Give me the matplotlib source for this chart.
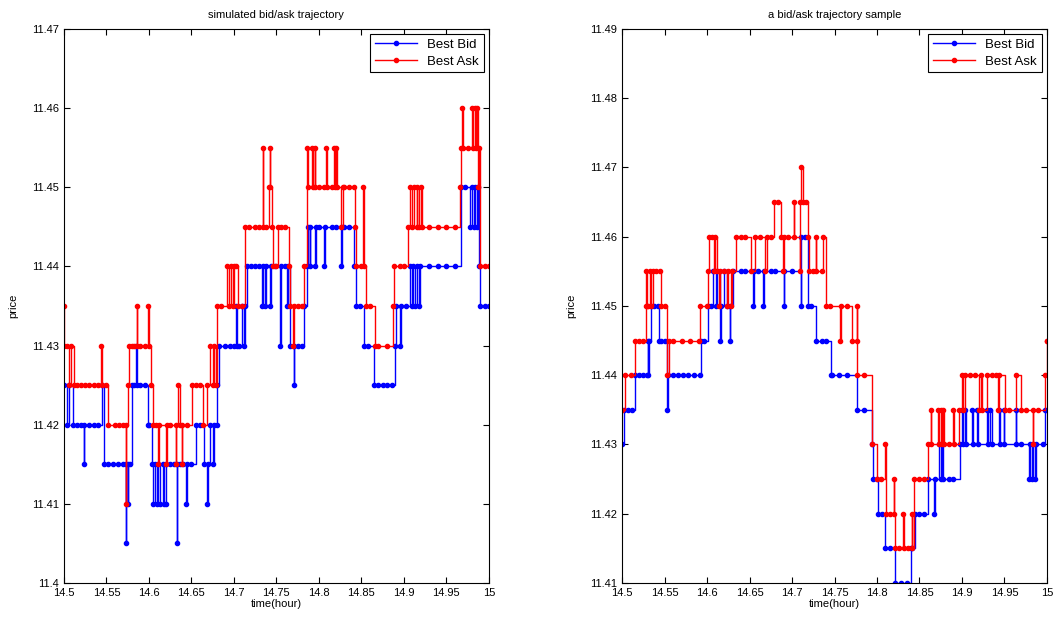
#!/usr/bin/env python3
# plot.py -- best bid / best ask trajectories (simulated vs sample), MATLAB style
import matplotlib
matplotlib.use("Agg")
import matplotlib.pyplot as plt
from matplotlib.ticker import FormatStrFormatter
import numpy as np

# (time in hours, price) at each quote update
sim_bid = [
    (14.500, 11.425), (14.5035, 11.420), (14.506, 11.425), (14.5106, 11.420), (14.515, 11.420),
    (14.520, 11.420), (14.5235, 11.415), (14.524, 11.420), (14.530, 11.420), (14.535, 11.420),
    (14.540, 11.420), (14.5447, 11.425), (14.547, 11.415), (14.552, 11.415), (14.558, 11.415),
    (14.564, 11.415), (14.569, 11.415), (14.573, 11.405), (14.5735, 11.415), (14.575, 11.410),
    (14.5755, 11.415), (14.578, 11.415), (14.580, 11.425), (14.583, 11.425), (14.5847, 11.430),
    (14.586, 11.425), (14.590, 11.425), (14.595, 11.425), (14.5988, 11.420), (14.600, 11.420),
    (14.6035, 11.415), (14.605, 11.410), (14.607, 11.415), (14.609, 11.410), (14.611, 11.415),
    (14.613, 11.410), (14.6165, 11.415), (14.618, 11.410), (14.6195, 11.410), (14.620, 11.415),
    (14.625, 11.415), (14.630, 11.415), (14.633, 11.405), (14.6335, 11.415), (14.636, 11.415),
    (14.640, 11.415), (14.644, 11.410), (14.645, 11.415), (14.650, 11.415), (14.655, 11.420),
    (14.660, 11.420), (14.665, 11.415), (14.668, 11.410), (14.669, 11.415), (14.672, 11.420),
    (14.675, 11.415), (14.676, 11.420), (14.680, 11.420), (14.6805, 11.425), (14.682, 11.430),
    (14.690, 11.430), (14.695, 11.430), (14.700, 11.430), (14.702, 11.435), (14.7035, 11.430),
    (14.706, 11.430), (14.710, 11.435), (14.712, 11.430), (14.7135, 11.435), (14.715, 11.440),
    (14.720, 11.440), (14.725, 11.440), (14.730, 11.440), (14.733, 11.435), (14.734, 11.440),
    (14.736, 11.435), (14.738, 11.440), (14.742, 11.435), (14.744, 11.440), (14.748, 11.440),
    (14.754, 11.430), (14.755, 11.440), (14.760, 11.440), (14.762, 11.435), (14.764, 11.440),
    (14.766, 11.430), (14.7706, 11.425), (14.771, 11.430), (14.775, 11.430), (14.780, 11.430),
    (14.783, 11.435), (14.786, 11.440), (14.787, 11.445), (14.789, 11.440), (14.790, 11.445),
    (14.795, 11.440), (14.797, 11.445), (14.800, 11.445), (14.806, 11.440), (14.807, 11.445),
    (14.815, 11.445), (14.820, 11.445), (14.826, 11.440), (14.827, 11.445), (14.830, 11.445),
    (14.835, 11.445), (14.8415, 11.440), (14.844, 11.435), (14.848, 11.435), (14.853, 11.430),
    (14.858, 11.430), (14.865, 11.425), (14.870, 11.425), (14.875, 11.425), (14.880, 11.425),
    (14.886, 11.425), (14.889, 11.430), (14.891, 11.435), (14.895, 11.430), (14.897, 11.435),
    (14.902, 11.435), (14.907, 11.440), (14.909, 11.435), (14.911, 11.440), (14.913, 11.435),
    (14.915, 11.440), (14.918, 11.435), (14.919, 11.440), (14.930, 11.440), (14.940, 11.440),
    (14.950, 11.440), (14.960, 11.440), (14.967, 11.450), (14.972, 11.450), (14.978, 11.445),
    (14.980, 11.450), (14.982, 11.445), (14.984, 11.450), (14.986, 11.445), (14.987, 11.450),
    (14.988, 11.440), (14.989, 11.435), (14.995, 11.435), (15.000, 11.435),
]

sim_ask = [
    (14.500, 11.435), (14.5005, 11.430), (14.504, 11.430), (14.506, 11.425), (14.508, 11.430),
    (14.512, 11.425), (14.515, 11.425), (14.520, 11.425), (14.525, 11.425), (14.530, 11.425),
    (14.535, 11.425), (14.540, 11.425), (14.544, 11.430), (14.545, 11.425), (14.550, 11.425),
    (14.552, 11.420), (14.560, 11.420), (14.565, 11.420), (14.570, 11.420), (14.5725, 11.410),
    (14.5735, 11.420), (14.5755, 11.425), (14.577, 11.430), (14.580, 11.430), (14.583, 11.430),
    (14.586, 11.435), (14.5865, 11.430), (14.590, 11.430), (14.595, 11.430), (14.599, 11.435),
    (14.600, 11.430), (14.603, 11.425), (14.6045, 11.420), (14.608, 11.420), (14.611, 11.415),
    (14.612, 11.420), (14.620, 11.415), (14.621, 11.420), (14.625, 11.420), (14.6315, 11.415),
    (14.632, 11.420), (14.6345, 11.425), (14.637, 11.420), (14.6385, 11.415), (14.639, 11.420),
    (14.645, 11.420), (14.6505, 11.425), (14.655, 11.425), (14.660, 11.425), (14.664, 11.420),
    (14.668, 11.425), (14.672, 11.430), (14.675, 11.425), (14.6765, 11.430), (14.679, 11.425),
    (14.6805, 11.435), (14.685, 11.435), (14.692, 11.440), (14.694, 11.435), (14.697, 11.440),
    (14.699, 11.435), (14.700, 11.440), (14.703, 11.440), (14.705, 11.435), (14.710, 11.435),
    (14.7135, 11.445), (14.718, 11.445), (14.725, 11.445), (14.730, 11.445), (14.734, 11.455),
    (14.7345, 11.445), (14.738, 11.445), (14.741, 11.450), (14.742, 11.455), (14.743, 11.450),
    (14.745, 11.445), (14.746, 11.440), (14.750, 11.440), (14.752, 11.445), (14.755, 11.445),
    (14.760, 11.445), (14.7645, 11.440), (14.766, 11.435), (14.770, 11.430), (14.771, 11.435),
    (14.775, 11.435), (14.780, 11.435), (14.782, 11.440), (14.786, 11.455), (14.787, 11.450),
    (14.792, 11.455), (14.793, 11.450), (14.795, 11.455), (14.796, 11.450), (14.800, 11.450),
    (14.806, 11.450), (14.808, 11.455), (14.809, 11.450), (14.815, 11.450), (14.818, 11.455),
    (14.819, 11.450), (14.820, 11.455), (14.821, 11.450), (14.826, 11.445), (14.828, 11.450),
    (14.830, 11.450), (14.835, 11.450), (14.841, 11.450), (14.843, 11.445), (14.844, 11.440),
    (14.850, 11.440), (14.852, 11.450), (14.853, 11.440), (14.855, 11.435), (14.860, 11.435),
    (14.866, 11.430), (14.870, 11.430), (14.880, 11.430), (14.8875, 11.435), (14.8885, 11.440),
    (14.895, 11.440), (14.900, 11.440), (14.905, 11.445), (14.907, 11.450), (14.910, 11.445),
    (14.912, 11.450), (14.915, 11.445), (14.916, 11.450), (14.918, 11.445), (14.920, 11.450),
    (14.921, 11.445), (14.930, 11.445), (14.940, 11.445), (14.950, 11.445), (14.960, 11.445),
    (14.9655, 11.450), (14.967, 11.455), (14.968, 11.460), (14.969, 11.455), (14.975, 11.455),
    (14.980, 11.460), (14.981, 11.455), (14.984, 11.460), (14.985, 11.455), (14.986, 11.460),
    (14.987, 11.450), (14.988, 11.455), (14.989, 11.440), (14.995, 11.440), (15.000, 11.440),
]

real_bid = [
    (14.500, 11.430), (14.502, 11.435), (14.507, 11.435), (14.512, 11.435), (14.515, 11.440),
    (14.520, 11.440), (14.525, 11.440), (14.529, 11.440), (14.530, 11.445), (14.531, 11.440),
    (14.532, 11.445), (14.534, 11.450), (14.538, 11.450), (14.542, 11.450), (14.543, 11.445),
    (14.546, 11.445), (14.550, 11.445), (14.5525, 11.435), (14.554, 11.440), (14.560, 11.440),
    (14.566, 11.440), (14.572, 11.440), (14.578, 11.440), (14.585, 11.440), (14.592, 11.440),
    (14.593, 11.445), (14.597, 11.445), (14.601, 11.450), (14.605, 11.450), (14.6065, 11.455),
    (14.610, 11.450), (14.612, 11.455), (14.6155, 11.445), (14.617, 11.450), (14.620, 11.455),
    (14.623, 11.450), (14.627, 11.445), (14.6275, 11.450), (14.630, 11.455), (14.640, 11.455),
    (14.645, 11.455), (14.654, 11.450), (14.655, 11.455), (14.660, 11.455), (14.666, 11.450),
    (14.667, 11.455), (14.675, 11.455), (14.680, 11.455), (14.690, 11.450), (14.691, 11.455),
    (14.700, 11.455), (14.710, 11.450), (14.7105, 11.460), (14.715, 11.460), (14.719, 11.450),
    (14.722, 11.450), (14.7285, 11.445), (14.735, 11.445), (14.740, 11.445), (14.746, 11.440),
    (14.7465, 11.440), (14.755, 11.440), (14.765, 11.440), (14.777, 11.435), (14.785, 11.435),
    (14.794, 11.430), (14.795, 11.425), (14.800, 11.425), (14.8015, 11.420), (14.806, 11.420),
    (14.810, 11.415), (14.815, 11.415), (14.8215, 11.410), (14.828, 11.410), (14.835, 11.410),
    (14.8395, 11.415), (14.841, 11.415), (14.845, 11.420), (14.850, 11.420), (14.855, 11.420),
    (14.8605, 11.425), (14.8675, 11.420), (14.868, 11.425), (14.873, 11.430), (14.875, 11.425),
    (14.877, 11.430), (14.878, 11.425), (14.885, 11.425), (14.890, 11.425), (14.898, 11.430),
    (14.900, 11.435), (14.901, 11.430), (14.903, 11.435), (14.905, 11.430), (14.912, 11.435),
    (14.913, 11.430), (14.9175, 11.435), (14.919, 11.430), (14.9295, 11.435), (14.931, 11.430),
    (14.9335, 11.435), (14.935, 11.430), (14.943, 11.435), (14.945, 11.430), (14.949, 11.435),
    (14.950, 11.430), (14.963, 11.435), (14.9635, 11.430), (14.970, 11.430), (14.9785, 11.425),
    (14.980, 11.430), (14.982, 11.425), (14.984, 11.430), (14.9865, 11.425), (14.987, 11.430),
    (14.995, 11.430), (14.998, 11.435), (15.000, 11.435),
]

real_ask = [
    (14.500, 11.435), (14.5035, 11.440), (14.510, 11.440), (14.515, 11.445), (14.520, 11.445),
    (14.525, 11.445), (14.528, 11.450), (14.5285, 11.455), (14.529, 11.450), (14.5305, 11.450),
    (14.533, 11.455), (14.534, 11.450), (14.536, 11.455), (14.540, 11.455), (14.545, 11.455),
    (14.546, 11.450), (14.550, 11.450), (14.553, 11.440), (14.555, 11.445), (14.560, 11.445),
    (14.570, 11.445), (14.580, 11.445), (14.590, 11.445), (14.592, 11.450), (14.600, 11.450),
    (14.6015, 11.455), (14.6025, 11.460), (14.606, 11.460), (14.608, 11.455), (14.609, 11.460),
    (14.612, 11.455), (14.614, 11.450), (14.6155, 11.455), (14.620, 11.455), (14.624, 11.450),
    (14.6245, 11.455), (14.628, 11.450), (14.629, 11.455), (14.6345, 11.460), (14.640, 11.460),
    (14.645, 11.460), (14.652, 11.455), (14.656, 11.460), (14.662, 11.460), (14.6685, 11.455),
    (14.670, 11.460), (14.675, 11.460), (14.679, 11.465), (14.683, 11.465), (14.687, 11.460),
    (14.6896, 11.455), (14.6905, 11.460), (14.695, 11.460), (14.702, 11.465), (14.7025, 11.460),
    (14.709, 11.455), (14.7095, 11.465), (14.710, 11.470), (14.713, 11.465), (14.716, 11.465),
    (14.719, 11.460), (14.720, 11.455), (14.725, 11.455), (14.7277, 11.460), (14.728, 11.455),
    (14.735, 11.455), (14.737, 11.460), (14.740, 11.450), (14.745, 11.450), (14.757, 11.445),
    (14.7575, 11.450), (14.765, 11.450), (14.771, 11.445), (14.776, 11.450), (14.7765, 11.445),
    (14.777, 11.440), (14.785, 11.440), (14.794, 11.430), (14.800, 11.425), (14.805, 11.425),
    (14.810, 11.430), (14.8105, 11.420), (14.815, 11.420), (14.820, 11.425), (14.8205, 11.420),
    (14.8215, 11.415), (14.826, 11.415), (14.831, 11.420), (14.8315, 11.415), (14.836, 11.415),
    (14.841, 11.420), (14.8415, 11.415), (14.843, 11.425), (14.850, 11.425), (14.855, 11.425),
    (14.8605, 11.430), (14.863, 11.435), (14.8635, 11.430), (14.872, 11.435), (14.873, 11.430),
    (14.875, 11.435), (14.876, 11.430), (14.878, 11.435), (14.8785, 11.430), (14.885, 11.430),
    (14.890, 11.435), (14.8905, 11.430), (14.896, 11.435), (14.900, 11.440), (14.901, 11.435),
    (14.903, 11.440), (14.910, 11.440), (14.915, 11.440), (14.920, 11.435), (14.922, 11.440),
    (14.923, 11.435), (14.930, 11.440), (14.935, 11.440), (14.940, 11.440), (14.942, 11.435),
    (14.944, 11.440), (14.951, 11.435), (14.955, 11.435), (14.963, 11.440), (14.969, 11.435),
    (14.975, 11.435), (14.9837, 11.430), (14.984, 11.435), (14.990, 11.435), (14.998, 11.440),
    (14.9995, 11.445), (15.000, 11.445),
]

titles = ["simulated bid/ask trajectory", "a bid/ask trajectory sample"]
ylims = [(11.40, 11.47), (11.41, 11.49)]
xticks = np.arange(14.5, 15.0001, 0.05)

plt.rcParams["font.family"] = ["Liberation Sans", "DejaVu Sans"]
fig = plt.figure(figsize=(10.57, 6.24), dpi=100)
axes = [fig.add_axes([0.0605, 0.0657, 0.402, 0.888]),
        fig.add_axes([0.5885, 0.0657, 0.402, 0.888])]

for ax, bid, ask, title, ylim in zip(axes, [sim_bid, real_bid], [sim_ask, real_ask], titles, ylims):
    bt, bp = zip(*bid)
    at, ap = zip(*ask)
    ax.plot(bt, bp, color="#0000ff", lw=1.0, marker=".", ms=6,
            drawstyle="steps-post", label="Best Bid")
    ax.plot(at, ap, color="#ff0000", lw=1.0, marker=".", ms=6,
            drawstyle="steps-post", label="Best Ask")
    ax.set_xlim(14.5, 15.0)
    ax.set_ylim(*ylim)
    ax.set_xticks(xticks)
    ax.set_yticks(np.arange(ylim[0], ylim[1] + 1e-4, 0.01))
    ax.xaxis.set_major_formatter(FormatStrFormatter("%g"))
    ax.yaxis.set_major_formatter(FormatStrFormatter("%g"))
    ax.tick_params(direction="in", top=True, right=True, labelsize=8, length=4)
    ax.set_title(title, fontsize=8, pad=8)
    ax.set_xlabel("time(hour)", fontsize=8, labelpad=1)
    ax.set_ylabel("price", fontsize=8, labelpad=10)
    leg = ax.legend(loc="upper right", fontsize=9.5, fancybox=False, numpoints=1,
                    edgecolor="black", framealpha=1, borderaxespad=0.4,
                    handlelength=3.2, borderpad=0.35, labelspacing=0.35)
    leg.get_frame().set_linewidth(0.8)

fig.savefig("out.png", dpi=100)
